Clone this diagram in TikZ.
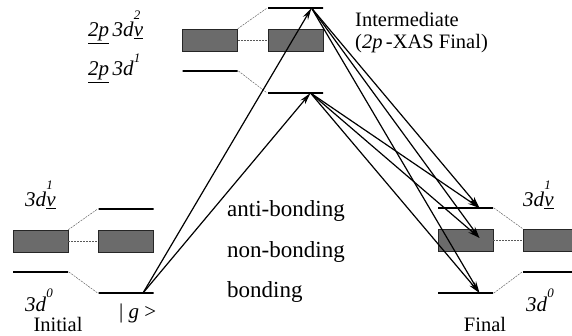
\documentclass[tikz,border=0pt]{standalone}
\usepackage{fontspec}
\setmainfont{Liberation Serif}
\usetikzlibrary{arrows.meta}

% raised occupation number over an underlined v
\newcommand{\up}[1]{\raisebox{.62em}{\fontsize{13}{13}\selectfont\textit{#1}}}
\newcommand{\holev}[1]{\rlap{\raisebox{.2em}{\up{#1}}}\underline{\textit{v}}}

\begin{document}
\begin{tikzpicture}[x=1pt, y=-1pt,
    level/.style={draw, line width=1.8pt, minimum width=55pt, minimum height=0pt, inner sep=0pt},
    band/.style={draw=black!85, fill=black!58, line width=0.6pt, minimum width=55pt, minimum height=22pt, inner sep=0pt},
    link/.style={black!65, line width=0.45pt, dash pattern=on 2pt off 1pt},
    trans/.style={-{Stealth[length=12pt,width=6pt]}, line width=1.2pt},
    lbl/.style={font=\fontsize{21}{24}\selectfont, inner sep=0pt, anchor=base west},
    big/.style={font=\fontsize{23}{26}\selectfont, inner sep=0pt, anchor=base west},
    title/.style={font=\fontsize{20.5}{22}\selectfont, inner sep=0pt}]
      \useasboundingbox (0,0) rectangle (572,336);

      % Initial state: left and right columns
      \node[band]  (iA) at (40.5,241) {};
      \node[level] (iB) at (40.5,272) {};
      \node[level] (iC) at (126,209) {};
      \node[band]  (iD) at (126,241) {};
      \node[level] (iE) at (126,293) {};
      \draw[link] (iA.north east) -- (iC.west);
      \draw[link] (iA.east) -- (iD.west);
      \draw[link] (iB.east) -- (iE.west);

      % Intermediate state
      \node[band]  (mA) at (210,40) {};
      \node[level] (mB) at (210,71) {};
      \node[level] (mC) at (295.5,8) {};
      \node[band]  (mD) at (295.5,40) {};
      \node[level] (mE) at (295.5,93) {};
      \draw[link] (mA.north east) -- (mC.west);
      \draw[link] (mA.east) -- (mD.west);
      \draw[link] (mB.east) -- (mE.west);

      % Final state
      \node[level] (fA) at (465.5,208) {};
      \node[band]  (fB) at (465.5,240) {};
      \node[level] (fC) at (465.5,293) {};
      \node[band]  (fD) at (550.5,240) {};
      \node[level] (fE) at (550.5,272) {};
      \draw[link] (fA.east) -- (fD.north west);
      \draw[link] (fB.east) -- (fD.west);
      \draw[link] (fC.east) -- (fE.west);

      % end points of the transitions
      \coordinate (g)  at ([xshift=17pt]iE.center);
      \coordinate (m1) at ([xshift=16pt]mC.center);
      \coordinate (m2) at ([xshift=15pt]mE.center);
      \coordinate (f1) at ([xshift=14pt]fA.center);
      \coordinate (f2) at ([xshift=14pt,yshift=2pt]fB.center);
      \coordinate (f3) at ([xshift=14pt]fC.center);

      % absorption and emission arrows
      \draw[trans] (g) -- (m1);
      \draw[trans] (g) -- (m2);
      \foreach \s in {m1,m2}
        \foreach \t in {f1,f2,f3}
          \draw[trans] (\s) -- (\t);

      % configuration labels
      \node[lbl] (iLup) at (25,207) {\textit{3d}\holev{1}};
      \node[lbl] (iLdn) at (25,311) {\textit{3d}\up{0}};
      \node[lbl] (gLbl) at (119,318) {| \textit{g} >};
      \node[lbl] (mLup) at (88,37) {\underline{\textit{2p}}\,\textit{3d}\holev{2}};
      \node[lbl] (mLdn) at (88,76) {\underline{\textit{2p}}\,\textit{3d}\up{1}};
      \node[lbl] (fLup) at (523,207) {\textit{3d}\holev{1}};
      \node[lbl] (fLdn) at (526,311) {\textit{3d}\up{0}};

      % state names
      \node[title, anchor=base] (iName) at (58,331) {Initial};
      \node[title, anchor=base] (fName) at (485,331) {Final};
      \node[title, anchor=base west] (mName) at (355,27) {Intermediate};
      \node[title, anchor=base west] (mSub) at (355,49) {(\textit{2p}\,-XAS Final)};

      % bonding character
      \node[big] (anti) at (227,217) {anti-bonding};
      \node[big] (non)  at (227,258) {non-bonding};
      \node[big] (bond) at (227,298) {bonding};
    \end{tikzpicture}
\end{document}
